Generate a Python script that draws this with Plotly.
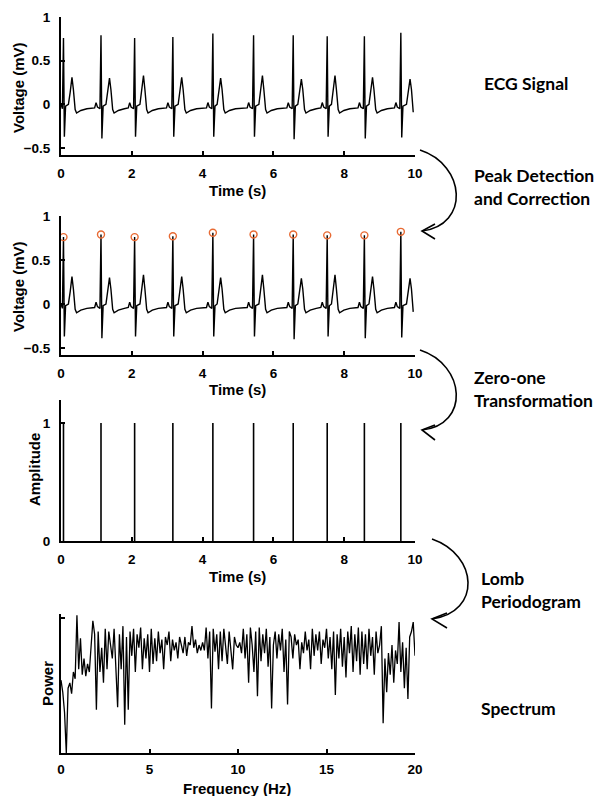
import plotly.graph_objects as go

# ---------------- data ----------------
# ECG beats
R_TIMES = [0.07, 1.13, 2.08, 3.16, 4.29, 5.44, 6.56, 7.52, 8.57, 9.60]
R_AMPS = [0.76, 0.79, 0.76, 0.77, 0.81, 0.79, 0.79, 0.78, 0.78, 0.82]
S_AMPS = [-0.37, -0.39, -0.37, -0.37, -0.37, -0.37, -0.40, -0.37, -0.39, -0.38]
T_TIMES = [0.31, 1.37, 2.33, 3.41, 4.51, 5.69, 6.79, 7.74, 8.80, 9.86]
T_AMPS = [0.31, 0.30, 0.33, 0.31, 0.30, 0.33, 0.29, 0.33, 0.31, 0.29]

PRE_R_OFFSETS = [-0.18, -0.14, -0.10, -0.03]
PRE_R_VALUES = [-0.04, 0.02, -0.03, -0.05]
S_OFFSET = 0.025
POST_S_OFFSETS = [0.06]
POST_S_VALUES = [-0.02]
T_OFFSETS = [-0.10, -0.05, 0.04, 0.09, 0.13, 0.25, 0.42]
T_VALUES = [0.00, 0.14, 0.17, -0.06, -0.10, -0.07, -0.05]
SIGNAL_START = (0.0, 0.0)
SIGNAL_END = (9.95, -0.09)

# Lomb periodogram spectrum (0 to 20 Hz, step 0.1 Hz), normalised power
POWER = [
    0.54, 0.45, 0.30, 0.00, 0.48, 0.52, 0.44, 0.60, 0.55, 1.02,
    0.62, 0.85, 0.58, 0.70, 0.57, 0.66, 0.60, 0.80, 0.98, 0.88,
    0.32, 0.90, 0.60, 0.78, 0.52, 0.92, 0.62, 0.90, 0.80, 0.70,
    0.92, 0.60, 0.34, 0.88, 0.62, 0.94, 0.21, 0.86, 0.32, 0.90,
    0.72, 0.92, 0.60, 0.88, 0.78, 0.93, 0.62, 0.85, 0.70, 0.88,
    0.60, 0.92, 0.66, 0.85, 0.68, 0.90, 0.74, 0.84, 0.62, 0.86,
    0.80, 0.90, 0.68, 0.84, 0.76, 0.82, 0.70, 0.86, 0.80, 0.74,
    0.86, 0.72, 0.82, 0.80, 0.94, 0.78, 0.84, 0.74, 0.80, 0.76,
    0.82, 0.76, 0.93, 0.70, 0.90, 0.33, 0.92, 0.75, 0.88, 0.62,
    0.90, 0.68, 0.92, 0.76, 0.66, 0.90, 0.74, 0.62, 0.86, 0.80,
    0.78, 0.82, 0.74, 0.92, 0.70, 0.88, 0.52, 0.93, 0.80, 0.60,
    0.90, 0.42, 0.93, 0.68, 0.88, 0.74, 0.92, 0.64, 0.86, 0.33,
    0.80, 0.90, 0.70, 0.88, 0.76, 0.92, 0.60, 0.84, 0.36, 0.90,
    0.86, 0.70, 0.88, 0.80, 0.84, 0.62, 0.82, 0.74, 0.90, 0.76,
    0.84, 0.62, 0.92, 0.72, 0.88, 0.76, 0.90, 0.66, 0.84, 0.78,
    0.92, 0.70, 0.86, 0.62, 0.90, 0.43, 0.88, 0.70, 0.92, 0.64,
    0.86, 0.56, 0.90, 0.74, 0.94, 0.60, 0.88, 0.68, 0.93, 0.58,
    0.90, 0.66, 0.88, 0.62, 0.92, 0.72, 0.86, 0.58, 0.90, 0.74,
    0.80, 0.94, 0.22, 0.70, 0.45, 0.74, 0.58, 0.80, 0.52, 0.76,
    0.66, 0.97, 0.60, 0.82, 0.48, 0.78, 0.40, 0.86, 0.90, 0.97, 0.72,
]
FREQ_STEP = 0.1

TIME_TICKS = [0, 2, 4, 6, 8, 10]
VOLT_TICKS = [-0.5, 0, 0.5, 1]
AMP_TICKS = [0, 1]
FREQ_TICKS = [0, 5, 10, 15, 20]
POWER_TICKS = [1]

STEP_LABELS = [
    ("ECG Signal", 482, 83),
    ("Peak Detection<br>and Correction", 472, 187),
    ("Zero-one<br>Transformation", 472, 389),
    ("Lomb<br>Periodogram", 479, 590),
    ("Spectrum", 479, 708),
]

# ---------------- build the ECG trace from the beat data ----------------
pts = [SIGNAL_START]
for r, ra, sa, tt, ta in zip(R_TIMES, R_AMPS, S_AMPS, T_TIMES, T_AMPS):
    for o, v in zip(PRE_R_OFFSETS, PRE_R_VALUES):
        pts.append((r + o, v))
    pts.append((r, ra))
    pts.append((r + S_OFFSET, sa))
    for o, v in zip(POST_S_OFFSETS, POST_S_VALUES):
        pts.append((r + o, v))
    t_pts = list(zip(T_OFFSETS, T_VALUES))
    for o, v in t_pts[:2]:
        pts.append((tt + o, v))
    pts.append((tt, ta))
    for o, v in t_pts[2:]:
        pts.append((tt + o, v))
pts = [p for p in pts if SIGNAL_START[0] <= p[0] < SIGNAL_END[0]]
pts.append(SIGNAL_END)
pts.sort(key=lambda p: p[0])
ecg_t = [p[0] for p in pts]
ecg_v = [p[1] for p in pts]

# zero-one transformation
z_t, z_v = [], []
for r in R_TIMES:
    z_t += [r, r, None]
    z_v += [0, 1, None]

freq = [round(i * FREQ_STEP, 2) for i in range(len(POWER))]

# ---------------- figure ----------------
W, H = 604, 796


def px(x):
    return x / W


def py(y):
    return 1 - y / H


TICKFONT = dict(family="Liberation Sans, Arial, sans-serif", size=13.5, color="black", weight="bold")
TITLEFONT = dict(family="Liberation Sans, Arial, sans-serif", size=15, color="black", weight="bold")

fig = go.Figure()
fig.add_trace(go.Scatter(x=ecg_t, y=ecg_v, mode="lines", line=dict(color="black", width=1.4),
                         xaxis="x", yaxis="y", showlegend=False, hoverinfo="skip"))
fig.add_trace(go.Scatter(x=ecg_t, y=ecg_v, mode="lines", line=dict(color="black", width=1.4),
                         xaxis="x2", yaxis="y2", showlegend=False, hoverinfo="skip"))
fig.add_trace(go.Scatter(x=R_TIMES, y=R_AMPS, mode="markers",
                         marker=dict(symbol="circle-open", size=7, color="#E86A33", line=dict(width=1.4)),
                         xaxis="x2", yaxis="y2", showlegend=False, hoverinfo="skip"))
fig.add_trace(go.Scatter(x=z_t, y=z_v, mode="lines", line=dict(color="black", width=1.6),
                         xaxis="x3", yaxis="y3", showlegend=False, hoverinfo="skip"))
fig.add_trace(go.Scatter(x=freq, y=POWER, mode="lines", line=dict(color="black", width=1.3),
                         xaxis="x4", yaxis="y4", showlegend=False, hoverinfo="skip"))

axis_common = dict(showline=True, linecolor="black", linewidth=2, ticks="inside", ticklen=4,
                   tickwidth=2, tickcolor="black", showgrid=False, zeroline=False,
                   tickfont=TICKFONT, fixedrange=True, automargin=False)

xdom = [px(61), px(415)]
panels = [
    # (top px, bottom px, y range, y ticks, x range, x ticks, x label standoff)
    (17, 155, [-0.58, 1.0], VOLT_TICKS, [0, 10], TIME_TICKS, 5),
    (216, 355, [-0.58, 1.0], VOLT_TICKS, [0, 10], TIME_TICKS, 5),
    (400, 541, [0, 1.195], AMP_TICKS, [0, 10], TIME_TICKS, 5),
    (614, 753, [0, 1.03], POWER_TICKS, [0, 20], FREQ_TICKS, 3),
]
layout = {}
for i, (top, bot, yr, yt, xr, xt, xs) in enumerate(panels, start=1):
    sfx = "" if i == 1 else str(i)
    layout["xaxis" + sfx] = dict(axis_common, domain=xdom, range=xr, tickvals=xt,
                                 anchor="y" + sfx, ticklabelstandoff=xs)
    ydict = dict(axis_common, domain=[py(bot), py(top)], range=yr, tickvals=yt,
                 anchor="x" + sfx, ticklabelstandoff=6)
    if i == 4:
        ydict["showticklabels"] = False
    layout["yaxis" + sfx] = ydict

annotations = []


def add_text(text, x, y, font, angle=0, xanchor="center"):
    annotations.append(dict(text=text, x=px(x), y=py(y), xref="paper", yref="paper",
                            showarrow=False, font=font, textangle=angle,
                            xanchor=xanchor, yanchor="middle"))


add_text("Voltage (mV)", 18, 88, TITLEFONT, -90)
add_text("Voltage (mV)", 18, 287, TITLEFONT, -90)
add_text("Amplitude", 35, 470, TITLEFONT, -90)
add_text("Power", 47, 684, TITLEFONT, -90)
add_text("Time (s)", 237, 191, TITLEFONT)
add_text("Time (s)", 237, 390, TITLEFONT)
add_text("Time (s)", 237, 576, TITLEFONT)
add_text("Frequency (Hz)", 237, 788, TITLEFONT)

STEPFONT = dict(family="Lato, sans-serif", size=17.5, color="black", weight="bold")
for txt, x, y in STEP_LABELS:
    annotations.append(dict(text=txt, x=px(x), y=py(y), xref="paper", yref="paper",
                            showarrow=False, font=STEPFONT, xanchor="left", yanchor="middle",
                            align="left"))

# curved arrows between steps (pixel geometry)
arrows = [
    ((420, 150), (466, 165), (470, 225), (422, 231), (435, 224), (435, 239)),
    ((420, 350), (466, 365), (470, 425), (422, 430), (435, 425), (435, 440)),
    ((432, 539), (478, 555), (482, 612), (432, 619), (447, 613), (447, 628)),
]
shapes = []
for p0, c1, c2, p3, h1, h2 in arrows:
    path = "M {},{} C {},{} {},{} {},{}".format(px(p0[0]), py(p0[1]), px(c1[0]), py(c1[1]),
                                                px(c2[0]), py(c2[1]), px(p3[0]), py(p3[1]))
    shapes.append(dict(type="path", path=path, xref="paper", yref="paper",
                       line=dict(color="black", width=1.6)))
    head = "M {},{} L {},{} L {},{}".format(px(h1[0]), py(h1[1]), px(p3[0]), py(p3[1]),
                                            px(h2[0]), py(h2[1]))
    shapes.append(dict(type="path", path=head, xref="paper", yref="paper",
                       line=dict(color="black", width=1.6)))

fig.update_layout(**layout)
fig.update_layout(width=W, height=H, margin=dict(l=0, r=0, t=0, b=0),
                  paper_bgcolor="white", plot_bgcolor="white",
                  annotations=annotations, shapes=shapes, showlegend=False)

fig.write_html("out.html")
